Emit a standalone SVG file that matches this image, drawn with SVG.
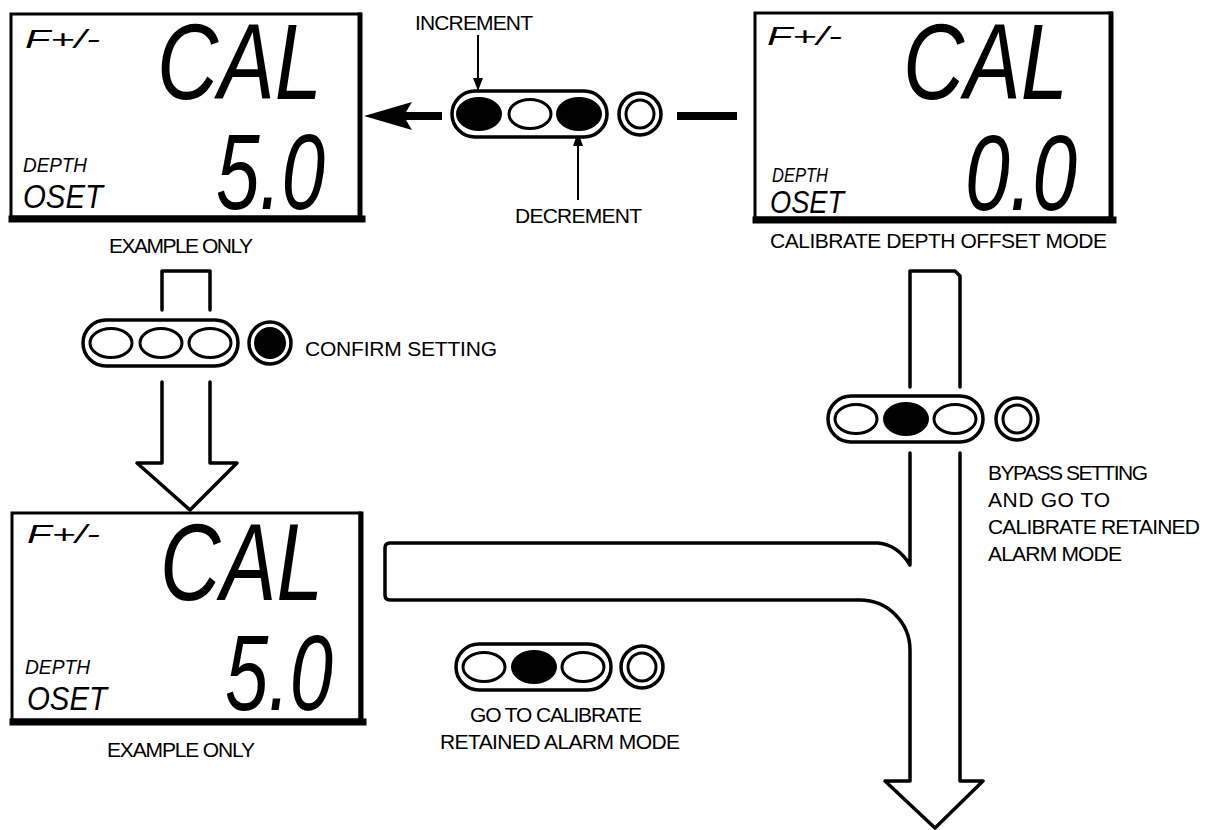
<svg xmlns="http://www.w3.org/2000/svg" xmlns:xlink="http://www.w3.org/1999/xlink" width="1216" height="830" viewBox="0 0 1216 830">
<style>
.lbl{font-family:"Liberation Sans",Arial,sans-serif;font-size:21px;fill:#000}
.lcd{font-family:"Liberation Sans",Arial,sans-serif;font-style:italic;fill:#000}
.ln{fill:none;stroke:#000;stroke-width:3.5;stroke-linejoin:round;stroke-linecap:round}
.box{fill:#fff;stroke:#000;stroke-width:3}
.shadow{fill:none;stroke:#000;stroke-linecap:square}
</style>
<defs>
<rect id="pill" x="0" y="-23" width="155" height="46" rx="23" fill="#fff" stroke="#000" stroke-width="3.5"/>
<ellipse id="ovE" rx="21" ry="14.5" fill="#fff" stroke="#000" stroke-width="3"/>
<ellipse id="ovF" rx="23" ry="17" fill="#000"/>
<g id="ringE"><circle r="21" fill="#fff" stroke="#000" stroke-width="3.5"/><circle r="14" fill="none" stroke="#000" stroke-width="3"/></g>
<g id="ringF"><circle r="21" fill="#fff" stroke="#000" stroke-width="3.5"/><circle r="16" fill="#000"/></g>
</defs>
<rect width="1216" height="830" fill="#fff"/>

<g id="connectors">
  <polygon points="364,116 412,102 406,112 442,112 442,120 406,120 412,130" fill="#000"/>
  <rect x="677" y="112" width="60" height="8" fill="#000"/>
  <line x1="478" y1="35" x2="478" y2="80" stroke="#000" stroke-width="2"/>
  <polygon points="473,78 483,78 478,91" fill="#000"/>
  <line x1="578" y1="200" x2="578" y2="145" stroke="#000" stroke-width="2"/>
  <polygon points="573,146 583,146 578,132" fill="#000"/>
  <path class="ln" d="M162 310 V271 H210 V310"/>
  <path class="ln" d="M162 382 V463 H137 L190 510 L237 463 H210 V382"/>
  <path class="ln" d="M910 387 V271 H955 L960 276 V387"/>
  <path class="ln" d="M910 453 V565 Q898 545 878 543 H390 Q385 543 385 548 V595 Q385 600 390 600 H860 A50 50 0 0 1 910 650 V781 H885 L935 828 L983 781 H960 V453"/>
</g>

<g id="lcd-top-left">
  <rect class="box" x="11" y="14" width="349" height="203"/>
  <path class="shadow" stroke-width="7" d="M12 219 H362"/>
  <path class="shadow" stroke-width="5" d="M360 15 V219"/>
  <text class="lcd" x="25" y="48" font-size="26" textLength="75" lengthAdjust="spacingAndGlyphs">F+/-</text>
  <text class="lcd" x="157" y="99" font-size="108" textLength="165" lengthAdjust="spacingAndGlyphs">CAL</text>
  <text class="lcd" x="23" y="172" font-size="21" textLength="64" lengthAdjust="spacingAndGlyphs">DEPTH</text>
  <text class="lcd" x="23" y="208" font-size="33" textLength="80" lengthAdjust="spacingAndGlyphs">OSET</text>
  <text class="lcd" x="216" y="209" font-size="108" textLength="109" lengthAdjust="spacingAndGlyphs">5.0</text>
</g>
<g id="label-example-1"><text class="lbl" x="109" y="253" textLength="144">EXAMPLE ONLY</text></g>

<g id="lcd-top-right">
  <rect class="box" x="755" y="13" width="356" height="205"/>
  <path class="shadow" stroke-width="7" d="M756 220 H1113"/>
  <path class="shadow" stroke-width="5" d="M1111 14 V220"/>
  <text class="lcd" x="767" y="45" font-size="26" textLength="75" lengthAdjust="spacingAndGlyphs">F+/-</text>
  <text class="lcd" x="903" y="99" font-size="108" textLength="165" lengthAdjust="spacingAndGlyphs">CAL</text>
  <text class="lcd" x="772" y="182" font-size="21" textLength="56" lengthAdjust="spacingAndGlyphs">DEPTH</text>
  <text class="lcd" x="770" y="213" font-size="31" textLength="74" lengthAdjust="spacingAndGlyphs">OSET</text>
  <text class="lcd" x="965" y="210" font-size="108" textLength="112" lengthAdjust="spacingAndGlyphs">0.0</text>
</g>
<g id="label-cal-depth"><text class="lbl" x="770" y="248" textLength="337">CALIBRATE DEPTH OFFSET MODE</text></g>

<g id="lcd-bottom-left">
  <rect class="box" x="12" y="513" width="348" height="207"/>
  <path class="shadow" stroke-width="7" d="M13 722 H363"/>
  <path class="shadow" stroke-width="5" d="M361 514 V722"/>
  <text class="lcd" x="27" y="543" font-size="26" textLength="73" lengthAdjust="spacingAndGlyphs">F+/-</text>
  <text class="lcd" x="160" y="600" font-size="110" textLength="163" lengthAdjust="spacingAndGlyphs">CAL</text>
  <text class="lcd" x="25" y="674" font-size="21" textLength="65" lengthAdjust="spacingAndGlyphs">DEPTH</text>
  <text class="lcd" x="27" y="710" font-size="33" textLength="80" lengthAdjust="spacingAndGlyphs">OSET</text>
  <text class="lcd" x="225" y="710" font-size="108" textLength="108" lengthAdjust="spacingAndGlyphs">5.0</text>
</g>
<g id="label-example-2"><text class="lbl" x="107" y="757" textLength="148">EXAMPLE ONLY</text></g>

<g id="buttons-top" transform="translate(452,114)">
  <use xlink:href="#pill"/>
  <use xlink:href="#ovF" x="27"/>
  <use xlink:href="#ovE" x="78"/>
  <use xlink:href="#ovF" x="127"/>
  <use xlink:href="#ringE" x="188"/>
</g>
<g id="label-increment"><text class="lbl" x="415" y="30" textLength="118">INCREMENT</text></g>
<g id="label-decrement"><text class="lbl" x="515" y="223" textLength="127">DECREMENT</text></g>

<g id="buttons-confirm" transform="translate(83,343)">
  <use xlink:href="#pill"/>
  <use xlink:href="#ovE" x="28"/>
  <use xlink:href="#ovE" x="78"/>
  <use xlink:href="#ovE" x="127"/>
  <use xlink:href="#ringF" x="187"/>
</g>
<g id="label-confirm"><text class="lbl" x="305" y="356" textLength="192">CONFIRM SETTING</text></g>

<g id="buttons-bypass" transform="translate(828,419)">
  <use xlink:href="#pill"/>
  <use xlink:href="#ovE" x="28"/>
  <use xlink:href="#ovF" x="78"/>
  <use xlink:href="#ovE" x="127"/>
  <use xlink:href="#ringE" x="189"/>
</g>
<g id="label-bypass">
  <text class="lbl" x="988" y="480" textLength="160">BYPASS SETTING</text>
  <text class="lbl" x="988" y="507" textLength="122">AND GO TO</text>
  <text class="lbl" x="988" y="534" textLength="212">CALIBRATE RETAINED</text>
  <text class="lbl" x="988" y="561" textLength="134">ALARM MODE</text>
</g>

<g id="buttons-goto" transform="translate(456,667)">
  <use xlink:href="#pill"/>
  <use xlink:href="#ovE" x="28"/>
  <use xlink:href="#ovF" x="78"/>
  <use xlink:href="#ovE" x="127"/>
  <use xlink:href="#ringE" x="186"/>
</g>
<g id="label-goto">
  <text class="lbl" x="556" y="722" text-anchor="middle" textLength="172">GO TO CALIBRATE</text>
  <text class="lbl" x="560" y="749" text-anchor="middle" textLength="240">RETAINED ALARM MODE</text>
</g>
</svg>
